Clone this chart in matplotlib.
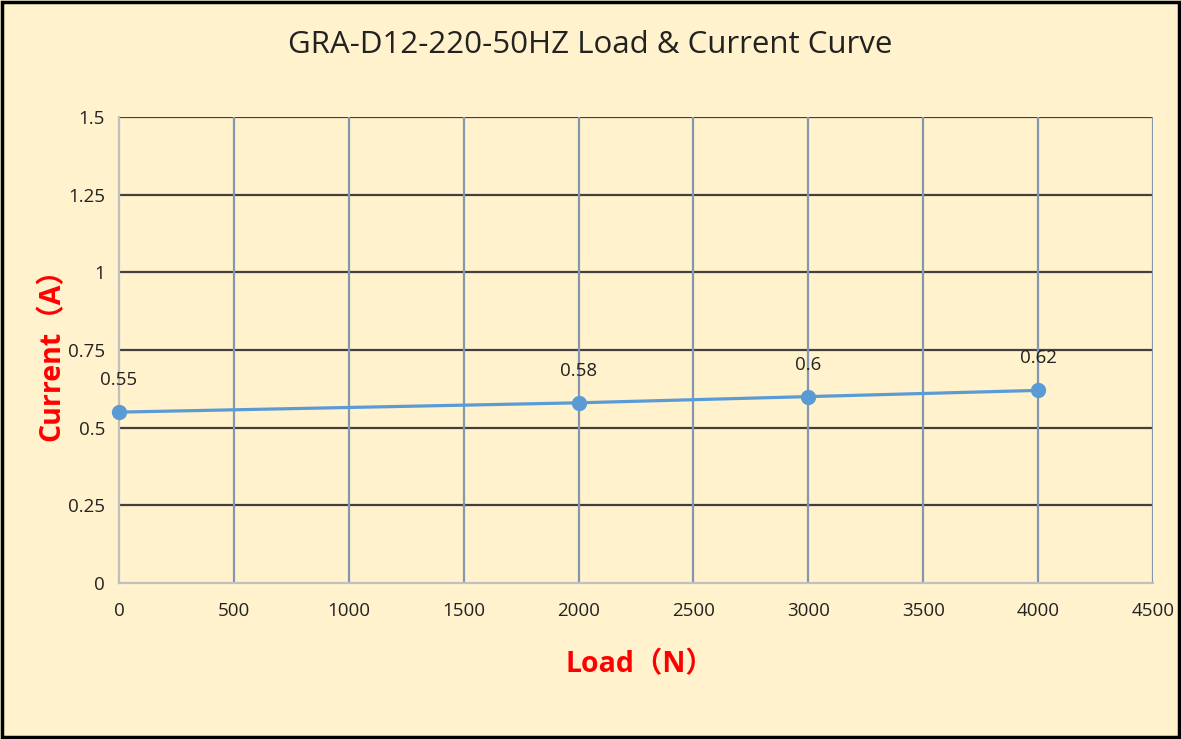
import matplotlib.pyplot as plt

# data
load = [0, 2000, 3000, 4000]
current = [0.55, 0.58, 0.6, 0.62]
x_ticks = [0, 500, 1000, 1500, 2000, 2500, 3000, 3500, 4000, 4500]
y_ticks = [0, 0.25, 0.5, 0.75, 1, 1.25, 1.5]
y_labels = ['0', '0.25', '0.5', '0.75', '1', '1.25', '1.5']

fonts = ['Open Sans', 'Noto Sans CJK SC', 'DejaVu Sans']
plt.rcParams['font.family'] = fonts

bg = '#FFF2CC'
fig = plt.figure(figsize=(11.81, 7.39), dpi=100, facecolor=bg)
fig.patches.append(plt.Rectangle((0.002, 0.003), 0.996, 0.994, transform=fig.transFigure,
                                 fill=False, edgecolor='black', linewidth=2.5))
ax = fig.add_axes([119 / 1181, (739 - 583) / 739, (1153 - 119) / 1181, (583 - 117) / 739])
ax.set_facecolor(bg)

ax.set_xlim(0, 4500)
ax.set_ylim(0, 1.5)
ax.set_xticks(x_ticks)
ax.set_yticks(y_ticks)
ax.set_yticklabels(y_labels)
ax.tick_params(length=0, labelsize=13.5, colors='#222222')
ax.tick_params(axis='y', pad=10)
ax.tick_params(axis='x', pad=14)

# excel style grid: dark horizontals, blue-grey verticals
for y in y_ticks[1:]:
    ax.axhline(y, color='#404040', linewidth=1.6, zorder=1)
for x in x_ticks[1:]:
    ax.axvline(x, color='#8497B0', linewidth=1.6, zorder=1)

for s in ['top', 'right']:
    ax.spines[s].set_visible(False)
ax.spines['left'].set_color('#BFBFBF')
ax.spines['bottom'].set_color('#BFBFBF')
ax.spines['left'].set_linewidth(1.6)
ax.spines['bottom'].set_linewidth(1.6)

ax.plot(load, current, color='#5B9BD5', linewidth=2.3, marker='o', markersize=10,
        zorder=3, clip_on=False)
for x, y in zip(load, current):
    ax.annotate(f'{y:g}', (x, y), xytext=(0, 23), textcoords='offset points',
                ha='center', va='center', fontsize=13.5, color='#222222', zorder=4)

fig.text(0.5, 1 - 45 / 739, 'GRA-D12-220-50HZ Load & Current Curve', ha='center', va='center',
         fontsize=22.5, color='#222222')
fig.text(640 / 1181, 1 - 665 / 739, 'Load（N）', ha='center', va='center', fontsize=20.5,
         fontweight='bold', color='#FF0000')
fig.text(52 / 1181, 1 - 348 / 739, 'Current（A）', ha='center', va='center', fontsize=20.5,
         fontweight='bold', color='#FF0000', rotation=90)

fig.savefig('out.png', dpi=100, facecolor=bg)
